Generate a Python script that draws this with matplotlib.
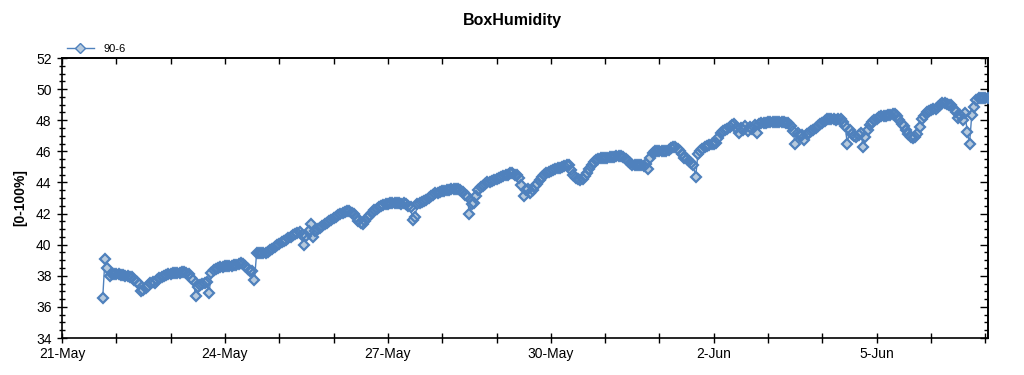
import matplotlib
matplotlib.use("Agg")
import matplotlib.pyplot as plt
import matplotlib.dates as mdates
from matplotlib.ticker import MultipleLocator, FuncFormatter, FixedLocator
from matplotlib.lines import Line2D
import pandas as pd

plt.rcParams['font.family'] = ['Liberation Sans', 'DejaVu Sans']

title = "BoxHumidity"
series_name = "90-6"
y_label = "[0-100%]"
start_time = "2021-05-21 18:00"
sample_freq = "1h"

humidity = [
    # 21-May 18:00 ->
    36.6, 39.1, 38.5, 38.0, 38.1, 38.1, 38.1, 38.1, 38.05, 38.05, 38.0, 38.0,
    37.95, 37.9, 37.75, 37.6, 37.45, 37.05, 37.1, 37.2, 37.35, 37.55, 37.6, 37.55,
    37.75, 37.85, 37.95, 38.0, 38.05, 38.1, 38.1, 38.15, 38.15, 38.2, 38.2, 38.25,
    38.25, 38.2, 38.1, 37.85, 37.75, 36.7, 37.3, 37.4, 37.5, 37.55, 37.6, 36.9,
    38.2, 38.35, 38.45, 38.5, 38.55, 38.55, 38.6, 38.6, 38.65, 38.65, 38.7, 38.7,
    38.75, 38.8, 38.75, 38.6, 38.45, 38.3, 38.3, 37.7, 39.45, 39.45, 39.45, 39.45,
    39.45, 39.5, 39.65, 39.75, 39.85, 39.95, 40.05, 40.15, 40.25, 40.3, 40.4, 40.5,
    40.6, 40.7, 40.75, 40.8, 40.6, 40.0, 40.55, 40.9, 41.3, 40.5, 40.9, 41.0,
    41.1, 41.2, 41.3, 41.4, 41.5, 41.6, 41.7, 41.8, 41.9, 41.95, 42.05, 42.1,
    42.15, 42.15, 42.05, 41.95, 41.75, 41.55, 41.4, 41.35, 41.55, 41.75, 41.9, 42.05,
    42.2, 42.3, 42.4, 42.5, 42.55, 42.6, 42.6, 42.65, 42.65, 42.7, 42.7, 42.65,
    42.6, 42.7, 42.6, 42.5, 42.45, 41.6, 41.8, 42.6, 42.7, 42.75, 42.8, 42.9,
    43.0, 43.1, 43.2, 43.3, 43.35, 43.4, 43.45, 43.45, 43.5, 43.5, 43.55, 43.55,
    43.55, 43.55, 43.5, 43.4, 43.2, 43.1, 42.0, 42.6, 42.7, 43.1, 43.5, 43.7,
    43.8, 43.9, 44.0, 44.05, 44.1, 44.15, 44.2, 44.3, 44.35, 44.4, 44.45, 44.5,
    44.6, 44.6, 44.5, 44.45, 44.3, 43.85, 43.15, 43.5, 43.6, 43.35, 43.5, 43.75,
    43.9, 44.15, 44.35, 44.5, 44.6, 44.7, 44.75, 44.8, 44.85, 44.9, 44.95, 45.0,
    45.05, 45.1, 45.1, 44.8, 44.5, 44.3, 44.2, 44.15, 44.2, 44.4, 44.6, 44.85,
    45.1, 45.3, 45.45, 45.5, 45.55, 45.6, 45.6, 45.6, 45.65, 45.65, 45.65, 45.7,
    45.7, 45.7, 45.65, 45.5, 45.4, 45.25, 45.15, 45.1, 45.1, 45.15, 45.1, 45.05,
    45.2, 44.85, 45.6, 45.9, 46.0, 46.05, 46.05, 46.05, 46.0, 46.05, 46.1, 46.2,
    46.25, 46.25, 46.15, 46.0, 45.8, 45.6, 45.5, 45.35, 45.25, 45.15, 44.35, 45.85,
    46.0, 46.15, 46.25, 46.35, 46.4, 46.45, 46.5, 46.55, 46.85, 47.15, 47.3, 47.35,
    47.45, 47.55, 47.7, 47.75, 47.5, 47.2, 47.5, 47.35, 47.6, 47.3, 47.55, 47.45,
    47.7, 47.2, 47.75, 47.8, 47.85, 47.85, 47.9, 47.9, 47.9, 47.9, 47.9, 47.9,
    47.9, 47.9, 47.85, 47.85, 47.6, 47.3, 46.45, 47.15, 47.0, 47.05, 46.75, 47.1,
    47.2, 47.3, 47.4, 47.5, 47.6, 47.75, 47.85, 47.95, 48.05, 48.1, 48.1, 48.05,
    48.0, 48.05, 48.05, 47.9, 47.65, 46.5, 47.35, 47.1, 47.0, 46.95, 47.05, 47.15,
    46.3, 46.95, 47.4, 47.7, 47.9, 48.0, 48.1, 48.2, 48.25, 48.3, 48.3, 48.35,
    48.35, 48.4, 48.4, 48.3, 48.0, 47.75, 47.6, 47.4, 47.1, 46.95, 46.85, 46.9,
    47.1, 47.55, 48.05, 48.3, 48.5, 48.6, 48.65, 48.7, 48.75, 48.85, 49.0, 49.1,
    49.1, 49.05, 49.0, 48.95, 48.75, 48.5, 48.15, 48.35, 48.0, 48.45, 47.25, 46.5,
    48.35, 48.85, 49.3, 49.4, 49.45, 49.45, 49.45, 49.4,
]

x_start = "2021-05-21 00:00"
x_end = "2021-06-07 01:10"
major_tick_dates = pd.date_range("2021-05-21", "2021-06-05", freq="3D")
y_min, y_max = 34, 52

line_color = "#4f81bd"
face_color = "#b7cadd"

times = pd.date_range(start_time, periods=len(humidity), freq=sample_freq)

fig = plt.figure(figsize=(10.24, 3.75), dpi=100)
ax = fig.add_axes([62 / 1024, 1 - 338 / 375, (988 - 62) / 1024, (338 - 58) / 375])

ax.plot(times, humidity, color=line_color, lw=1.0, zorder=2)
ax.plot(times, humidity, ls="none", marker="D", ms=5.0, mfc=face_color,
        mec="none", mew=0, zorder=3)
ax.plot(times, humidity, ls="none", marker="D", ms=5.0, mfc="none",
        mec=line_color, mew=1.6, zorder=4)

ax.set_xlim(pd.Timestamp(x_start), pd.Timestamp(x_end))
ax.set_ylim(y_min, y_max)

ax.xaxis.set_major_locator(FixedLocator(mdates.date2num(major_tick_dates)))
ax.xaxis.set_minor_locator(mdates.DayLocator())
ax.xaxis.set_major_formatter(
    FuncFormatter(lambda v, p: f"{mdates.num2date(v).day}-{mdates.num2date(v).strftime('%b')}"))
ax.yaxis.set_major_locator(MultipleLocator(2))
ax.yaxis.set_minor_locator(MultipleLocator(0.5))

ax.tick_params(axis="x", which="both", direction="inout", length=7, width=1,
               labelsize=10, pad=3, top=False)
ax.tick_params(axis="y", which="major", direction="inout", length=7, width=1,
               labelsize=10, pad=4, right=False)
ax.tick_params(axis="y", which="minor", direction="inout", length=4, width=1,
               right=False)

secx = ax.secondary_xaxis("top")
secx.xaxis.set_major_locator(mdates.DayLocator())
secx.tick_params(axis="x", which="major", direction="in", length=4, width=1,
                 labeltop=False)
secx.spines["top"].set_linewidth(1.2)

secy = ax.secondary_yaxis("right")
secy.yaxis.set_major_locator(MultipleLocator(2))
secy.yaxis.set_minor_locator(MultipleLocator(0.5))
secy.tick_params(axis="y", which="major", direction="in", length=6, width=1,
                 labelright=False)
secy.tick_params(axis="y", which="minor", direction="in", length=3, width=1)
secy.spines["right"].set_linewidth(1.2)

for s in ax.spines.values():
    s.set_linewidth(1.2)

fig.text(0.5, 1 - 20 / 375, title, ha="center", va="center",
         fontsize=11.5, fontweight="bold")
fig.text(20 / 1024, 1 - 198 / 375, y_label, ha="center", va="center",
         rotation=90, fontsize=10, fontweight="bold")

handle = Line2D([], [], color=line_color, lw=1.0, marker="D", ms=5,
                mfc=face_color, mec=line_color, mew=1.0)
ax.legend([handle], [series_name], loc="lower left",
          bbox_to_anchor=(0.003, 1.005), frameon=False, fontsize=8,
          handlelength=2.4, borderaxespad=0, borderpad=0.2, handletextpad=0.9)

fig.savefig("out.png", dpi=100)
